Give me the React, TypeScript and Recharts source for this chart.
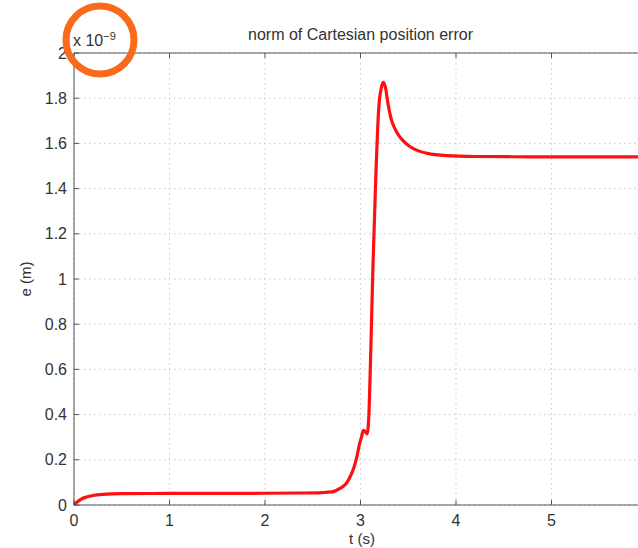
import React from "react";
import { LineChart, Line, XAxis, YAxis, CartesianGrid, ReferenceLine } from "recharts";

// time samples (s) and error norm (x 1e-9 m)
const tValues = [
  0, 0.03, 0.07, 0.13, 0.2, 0.3, 0.5, 1, 1.5, 2, 2.4, 2.6, 2.7, 2.79, 2.85, 2.89, 2.93, 2.96, 2.99,
  3.01, 3.03, 3.05, 3.07, 3.09, 3.11, 3.13, 3.16, 3.19, 3.22, 3.24, 3.26, 3.29, 3.32, 3.36, 3.4,
  3.45, 3.52, 3.6, 3.7, 3.9, 4.2, 4.6, 5, 5.5, 6,
];
const eValues = [
  0, 0.012, 0.025, 0.035, 0.042, 0.047, 0.05, 0.051, 0.051, 0.052, 0.053, 0.055, 0.058, 0.075, 0.095,
  0.124, 0.165, 0.21, 0.27, 0.3, 0.33, 0.325, 0.315, 0.42, 0.72, 1.05, 1.45, 1.75, 1.85, 1.87, 1.85,
  1.77, 1.71, 1.665, 1.635, 1.61, 1.585, 1.568, 1.556, 1.546, 1.542, 1.541, 1.54, 1.54, 1.54,
];
const xTicks = [0, 1, 2, 3, 4, 5];
const yTicks = [0, 0.2, 0.4, 0.6, 0.8, 1, 1.2, 1.4, 1.6, 1.8, 2];

const data = tValues.map((t, i) => ({ t, e: eValues[i] }));

const FONT = "'Liberation Sans', Arial, Helvetica, sans-serif";
const TEXT = "#333";
const AXIS = "#555";
const PLOT_TOP = 53;

const YTick = (props: any) => {
  const { x, y, payload } = props;
  return (
    <g>
      <line x1={x + 7} x2={x + 12} y1={y} y2={y} stroke={AXIS} />
      <text x={x} y={y} dy={5.5} textAnchor="end" fontSize={16} fill={TEXT} fontFamily={FONT}>
        {String(payload.value)}
      </text>
    </g>
  );
};

// bottom tick label plus inward tick marks at bottom and top of the box
const XTick = (props: any) => {
  const { x, y, payload } = props;
  return (
    <g>
      <line x1={x} x2={x} y1={y} y2={y - 5} stroke={AXIS} />
      <line x1={x} x2={x} y1={PLOT_TOP} y2={PLOT_TOP + 5} stroke={AXIS} />
      <text x={x} y={y + 21} textAnchor="middle" fontSize={16} fill={TEXT} fontFamily={FONT}>
        {String(payload.value)}
      </text>
    </g>
  );
};

const App = () => {
  return (
    <div style={{ position: "absolute", left: 0, top: 0, width: 638, height: 548, overflow: "hidden", background: "#fff" }}>
      <div style={{ position: "absolute", left: 0, top: 26, width: 721, textAlign: "center", fontFamily: FONT, fontSize: 16, color: TEXT }}>
        norm of Cartesian position error
      </div>
      <div style={{ position: "absolute", left: 73, top: 30, fontFamily: FONT, fontSize: 16, color: TEXT }}>
        x 10<sup style={{ fontSize: 11 }}>−9</sup>
      </div>
      <LineChart width={660} height={548} data={data} margin={{ top: PLOT_TOP, right: 13, bottom: 0, left: 0 }}>
        <CartesianGrid stroke="#c8c8c8" strokeDasharray="1.5 3.5" />
        <XAxis
          dataKey="t"
          type="number"
          domain={[0, 6]}
          ticks={xTicks}
          height={43}
          tickSize={0}
          tickMargin={0}
          tickLine={false}
          axisLine={{ stroke: AXIS }}
          tick={<XTick />}
          label={{
            content: () => (
              <text x={362} y={544} textAnchor="middle" fontSize={15} fill={TEXT} fontFamily={FONT}>
                t (s)
              </text>
            ),
          }}
        />
        <YAxis
          type="number"
          domain={[0, 2]}
          ticks={yTicks}
          width={74}
          tickSize={0}
          tickMargin={7}
          tickLine={false}
          axisLine={{ stroke: AXIS }}
          tick={<YTick />}
          label={{
            content: ({ viewBox }: any) => {
              const cx = 31;
              const cy = viewBox.y + viewBox.height / 2;
              return (
                <text x={cx} y={cy} transform={`rotate(-90 ${cx} ${cy})`} textAnchor="middle" fontSize={15} fill={TEXT} fontFamily={FONT}>
                  e (m)
                </text>
              );
            },
          }}
        />
        <ReferenceLine y={2} stroke={AXIS} />
        <Line type="monotone" dataKey="e" stroke="#ff1010" strokeWidth={3.2} dot={false} isAnimationActive={false} />
      </LineChart>
      {/* orange highlight ring around the exponent */}
      <svg width={80} height={80} style={{ position: "absolute", left: 60, top: 0, pointerEvents: "none" }}>
        <circle cx={40} cy={40} r={34} fill="none" stroke="#f96b1a" strokeWidth={7} />
      </svg>
    </div>
  );
};

export default App;
